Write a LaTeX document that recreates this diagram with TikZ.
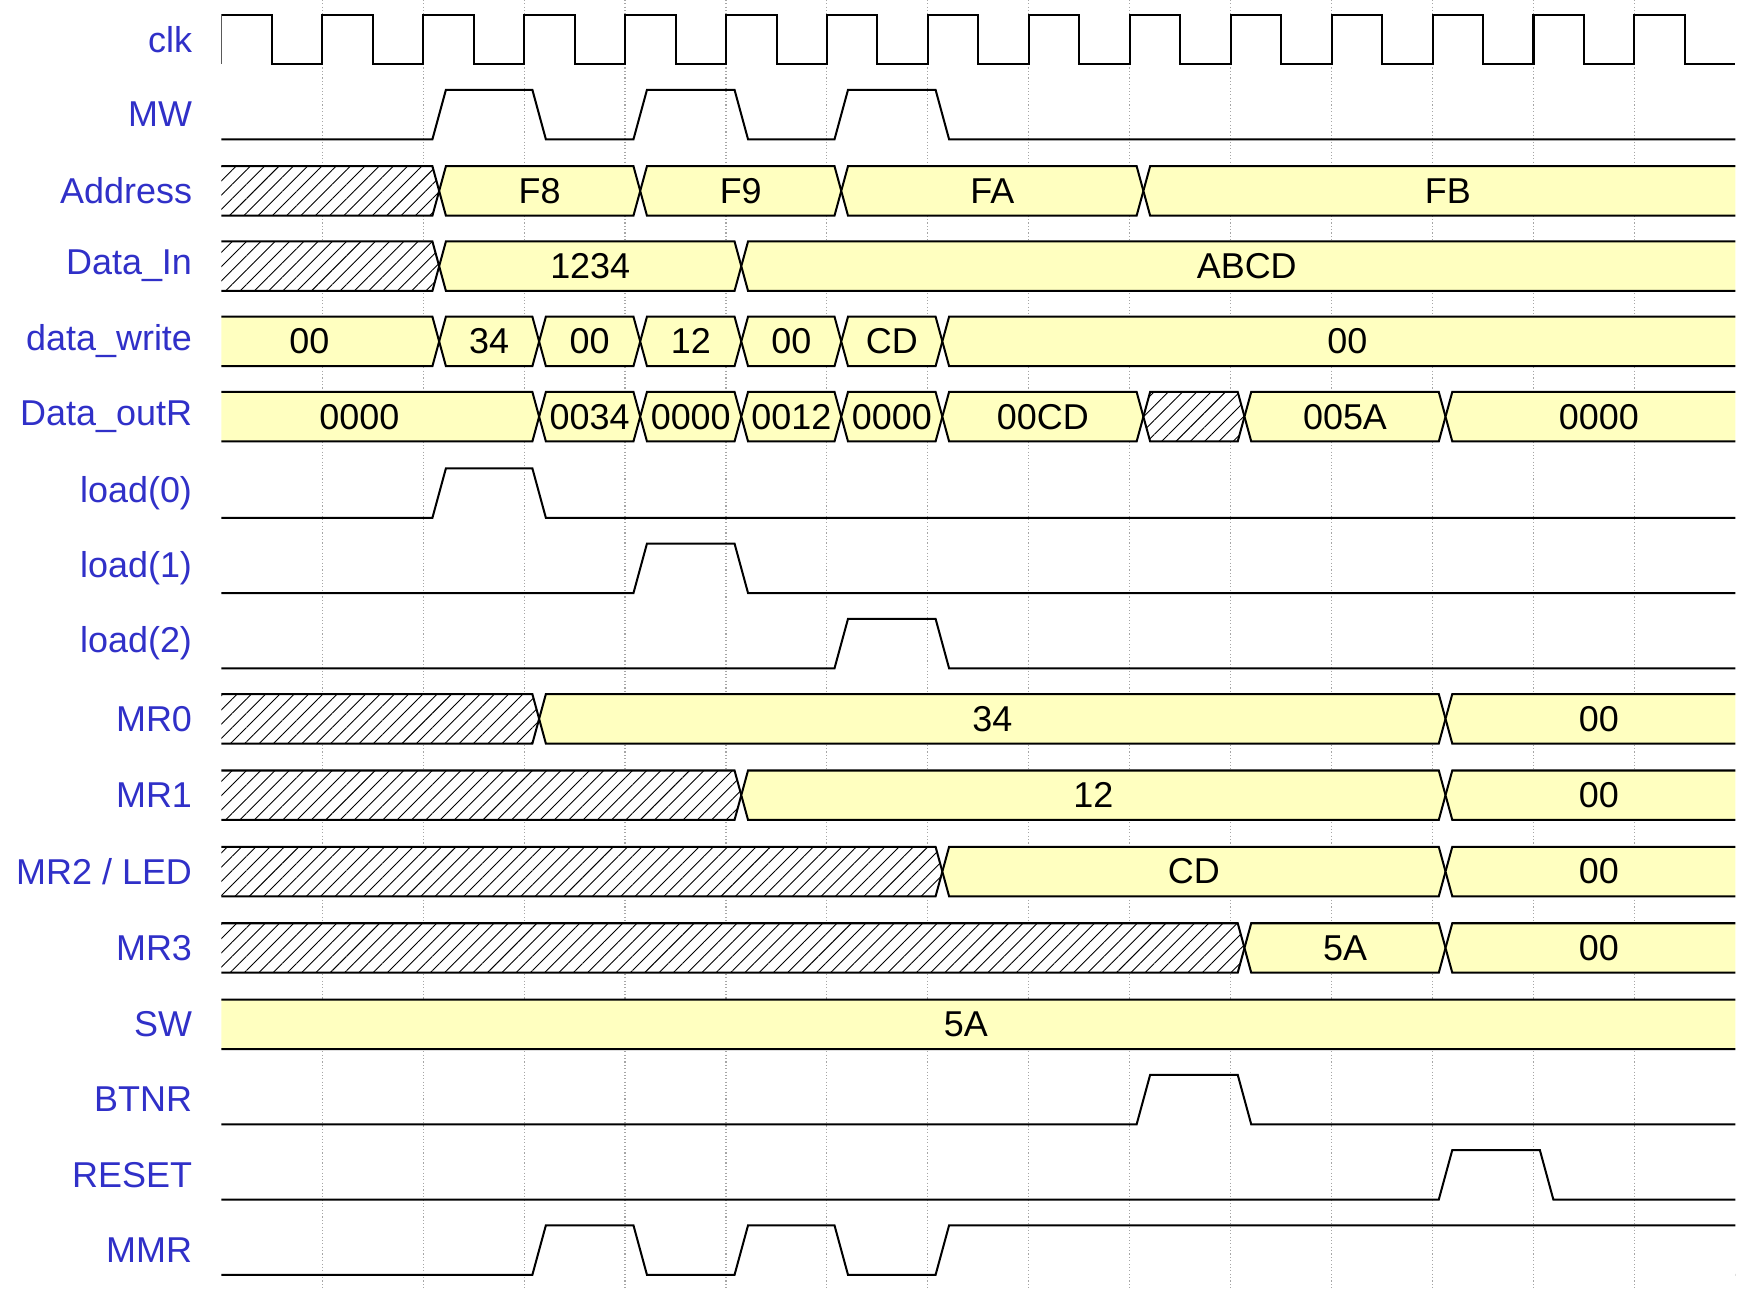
\documentclass[tikz,border=0pt]{standalone}
\usepackage{fontspec}
\setmainfont{Liberation Sans}
\usetikzlibrary{patterns.meta}
\definecolor{busyellow}{RGB}{255,255,192}
\definecolor{sigblue}{RGB}{48,48,200}
\tikzset{
  wave/.style={line width=0.9pt,line join=miter},
  busfill/.style={wave,fill=busyellow},
  busx/.style={wave,fill=white,postaction={pattern={Lines[angle=45,distance=4.5pt,line width=0.4pt]}}},
  grid line/.style={gray!70,densely dotted,line width=0.5pt},
  sig label/.style={anchor=east,text=sigblue,font=\fontsize{16}{19}\selectfont},
  bus text/.style={font=\fontsize{16}{19}\selectfont}
}
% one bus value between two crossings
\newcommand\busseg[5][busfill]{%
  \draw[#1] (#3,#2) -- (#3+6,#2-22) -- (#4-6,#2-22) -- (#4,#2) -- (#4-6,#2+22) -- (#3+6,#2+22) -- cycle;
  \node[bus text] at ({(#3+#4)/2},#2) {#5};}
% logic signal, low with high pulses a/b
\newcommand\pulses[2]{%
  \draw[wave] (197,#1+22) foreach \a/\b in {#2} { -- (\a-6,#1+22) -- (\a+6,#1-22) -- (\b-6,#1-22) -- (\b+6,#1+22)} -- (1545,#1+22);}
\begin{document}
\begin{tikzpicture}[x=0.5pt,y=-0.5pt]
\useasboundingbox (0,0) rectangle (1567,1160);

% grid
\foreach \k in {1,...,14}
  \draw[grid line] (197+\k*89.87,0) -- (197+\k*89.87,1147);

% labels
\foreach \n/\t/\y in {clk/clk/35, mw/MW/102, addr/Address/170, din/Data\_In/237,
    dwr/data\_write/304, dout/Data\_outR/371, ldz/load(0)/439, ldo/load(1)/506,
    ldt/load(2)/573, mrz/MR0/640, mro/MR1/708, mrt/{MR2 / LED}/776, mrh/MR3/844,
    sw/SW/912, btn/BTNR/979, rst/RESET/1046, mmr/MMR/1113}
  \node[sig label] (lbl-\n) at (178,\y) {\t};

\begin{scope}
\clip (197,0) rectangle (1545,1147);
% clock
\draw[wave] (197,57) foreach \k in {0,...,14} { -- (197+\k*89.87,57) -- (197+\k*89.87,13) -- (242+\k*89.87,13) -- (242+\k*89.87,57)} -- (1545,57);
% control signals
\pulses{102}{391/480, 570/660, 749/839}
\pulses{439}{391/480}
\pulses{506}{570/660}
\pulses{573}{749/839}
\pulses{979}{1018/1108}
\pulses{1046}{1287/1377}
\pulses{1113}{480/570, 660/749, 839/1600}
% buses
\busseg[busx]{170}{185}{391}{}
\busseg{170}{391}{570}{F8}
\busseg{170}{570}{749}{F9}
\busseg{170}{749}{1018}{FA}
\busseg{170}{1018}{1560}{FB}
\busseg[busx]{237}{185}{391}{}
\busseg{237}{391}{660}{1234}
\busseg{237}{660}{1560}{ABCD}
\busseg{304}{160}{391}{00}
\busseg{304}{391}{480}{34}
\busseg{304}{480}{570}{00}
\busseg{304}{570}{660}{12}
\busseg{304}{660}{749}{00}
\busseg{304}{749}{839}{CD}
\busseg{304}{839}{1560}{00}
\busseg{371}{160}{480}{0000}
\busseg{371}{480}{570}{0034}
\busseg{371}{570}{660}{0000}
\busseg{371}{660}{749}{0012}
\busseg{371}{749}{839}{0000}
\busseg{371}{839}{1018}{00CD}
\busseg[busx]{371}{1018}{1108}{}
\busseg{371}{1108}{1287}{005A}
\busseg{371}{1287}{1560}{0000}
\busseg[busx]{640}{185}{480}{}
\busseg{640}{480}{1287}{34}
\busseg{640}{1287}{1560}{00}
\busseg[busx]{708}{185}{660}{}
\busseg{708}{660}{1287}{12}
\busseg{708}{1287}{1560}{00}
\busseg[busx]{776}{185}{839}{}
\busseg{776}{839}{1287}{CD}
\busseg{776}{1287}{1560}{00}
\busseg[busx]{844}{185}{1108}{}
\busseg{844}{1108}{1287}{5A}
\busseg{844}{1287}{1560}{00}
\busseg{912}{160}{1560}{5A}
\end{scope}
\end{tikzpicture}
\end{document}
